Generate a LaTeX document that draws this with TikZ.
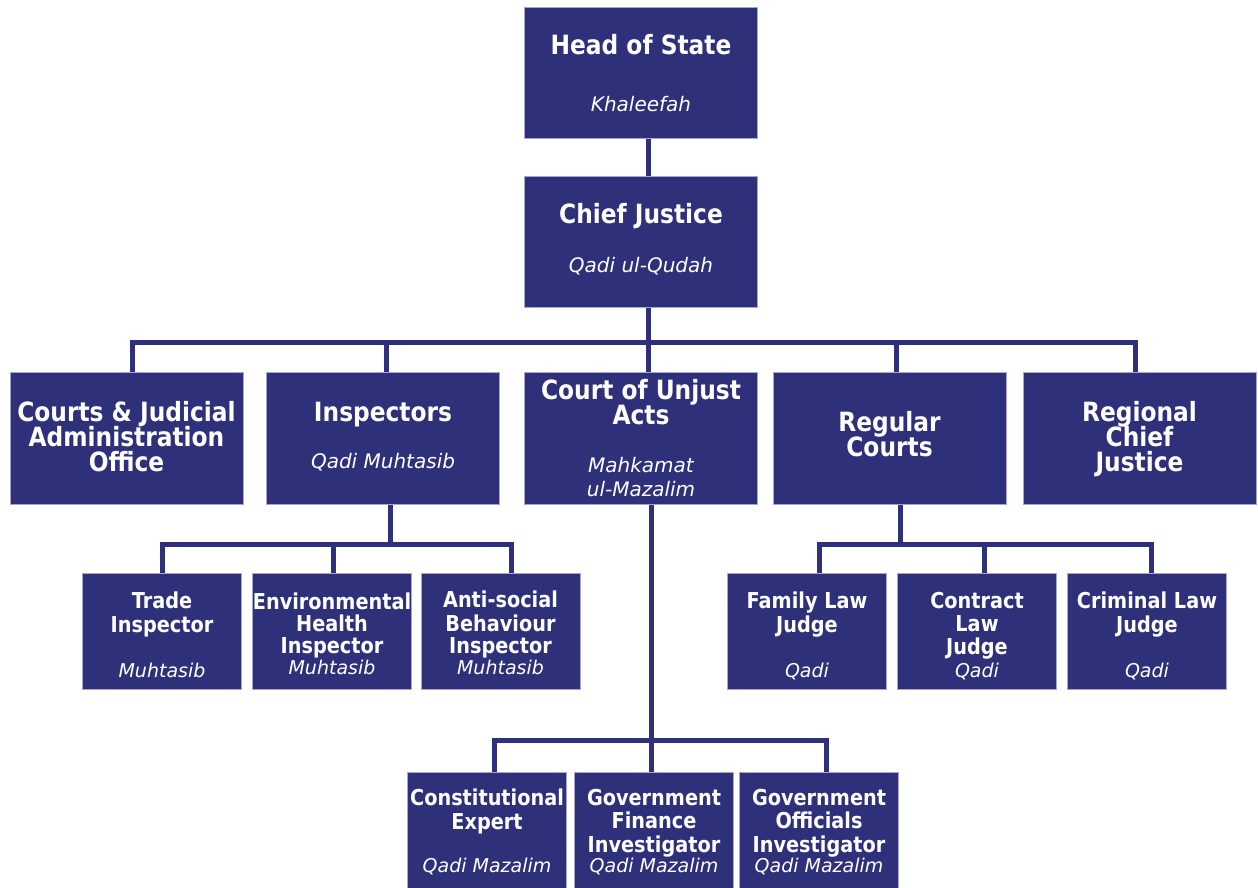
\documentclass[tikz,border=0pt]{standalone}
\usepackage{fontspec}
\setmainfont{DejaVu Sans}
\newfontfamily\condfam{DejaVu Sans}[FakeStretch=0.88]
\definecolor{navy}{RGB}{46,49,122}
\definecolor{edge}{RGB}{165,165,205}
\newcounter{tlc}
\newcommand\T[4]{\stepcounter{tlc}\node[#3] (tl\arabic{tlc}) at (#1,#2) {#4};}
\tikzset{
  box/.style={rectangle, fill=navy, draw=edge, line width=1pt, inner sep=0pt},
  bigbox/.style={box, minimum width=232pt, minimum height=130pt},
  smallbox/.style={box, minimum width=158pt, minimum height=115pt},
  conn/.style={draw=navy, line width=5pt, line join=miter, line cap=rect},
  tx/.style={anchor=base, inner sep=0pt, text=white},
  hb/.style={tx, font=\condfam\bfseries\fontsize{26.5}{26.5}\selectfont},
  sb/.style={tx, font=\condfam\bfseries\fontsize{21.9}{21.9}\selectfont},
  hi/.style={tx, font=\itshape\fontsize{20}{20}\selectfont},
  si/.style={tx, font=\itshape\fontsize{19}{19}\selectfont},
}
\begin{document}
\begin{tikzpicture}[x=1pt,y=-1pt]
\useasboundingbox (0,0) rectangle (1258,888);
\clip (0,0) rectangle (1258,888);
\node[bigbox] (hs) at (641,73) {};
\node[bigbox] (cj) at (641,242) {};
\node[bigbox, minimum height=131pt] (ca) at (126.5,438.5) {};
\node[bigbox, minimum height=131pt] (ins) at (383,438.5) {};
\node[bigbox, minimum height=131pt] (cu) at (641,438.5) {};
\node[bigbox, minimum height=131pt] (rc) at (889.5,438.5) {};
\node[bigbox, minimum height=131pt] (rg) at (1139.5,438.5) {};
\node[smallbox] (tr) at (162,631.5) {};
\node[smallbox] (env) at (332,631.5) {};
\node[smallbox] (anti) at (500.5,631.5) {};
\node[smallbox] (fam) at (807,631.5) {};
\node[smallbox] (con) at (977,631.5) {};
\node[smallbox] (cri) at (1147,631.5) {};
\node[smallbox, minimum height=118pt] (cex) at (487,832) {};
\node[smallbox, minimum height=118pt] (gf) at (654,832) {};
\node[smallbox, minimum height=118pt] (go) at (819,832) {};
\coordinate (bus1) at (648.5,342.5);
\coordinate (bus2) at (390.5,544.5);
\coordinate (bus3) at (900.5,544.5);
\coordinate (bus4) at (651.5,740.5);
% connectors
\draw[conn] ([xshift=7.5pt]hs.south) -- ([xshift=7.5pt]cj.north);
\draw[conn] ([xshift=7.5pt]cj.south) -- ([xshift=7.5pt]cu.north);
\draw[conn] ([xshift=5.5pt]ca.north) |- (bus1) -| ([xshift=-4pt]rg.north);
\draw[conn] ([xshift=3.5pt]ins.north) -- ([xshift=3.5pt]ins.north |- bus1);
\draw[conn] ([xshift=7pt]rc.north) -- ([xshift=7pt]rc.north |- bus1);
\draw[conn] ([xshift=7.5pt]ins.south) -- (bus2);
\draw[conn] ([xshift=0.5pt]tr.north) |- (bus2) -| ([xshift=11pt]anti.north);
\draw[conn] ([xshift=1.5pt]env.north) -- ([xshift=1.5pt]env.north |- bus2);
\draw[conn] ([xshift=11pt]rc.south) -- (bus3);
\draw[conn] ([xshift=12.5pt]fam.north) |- (bus3) -| ([xshift=4.5pt]cri.north);
\draw[conn] ([xshift=7.5pt]con.north) -- ([xshift=7.5pt]con.north |- bus3);
\draw[conn] ([xshift=10.5pt]cu.south) -- ([xshift=-2.5pt]gf.north);
\draw[conn] ([xshift=7.5pt]cex.north) |- (bus4) -| ([xshift=7.5pt]go.north);
% redraw boxes on top of connectors
\foreach \n in {hs,cj,ca,ins,cu,rc,rg,tr,env,anti,fam,con,cri,cex,gf,go}{
  \fill[navy] (\n.south west) rectangle (\n.north east);
  \draw[edge, line width=1pt] (\n.south west) rectangle (\n.north east);
}
% texts
\T{641}{55}{hb}{Head of State}
\T{641}{112}{hi}{Khaleefah}
\T{641}{223}{hb}{Chief Justice}
\T{641}{272}{hi}{Qadi ul-Qudah}
\T{126.5}{421.5}{hb}{Courts \& Judicial}
\T{126.5}{446.5}{hb}{Administration}
\T{126.5}{471}{hb}{Office}
\T{383}{421.5}{hb}{Inspectors}
\T{383}{468}{hi}{Qadi Muhtasib}
\T{641}{399}{hb}{Court of Unjust}
\T{641}{424}{hb}{Acts}
\T{641}{472}{hi}{Mahkamat}
\T{641}{496}{hi}{ul-Mazalim}
\T{889.5}{431}{hb}{Regular}
\T{889.5}{456}{hb}{Courts}
\T{1139.5}{421.5}{hb}{Regional}
\T{1139.5}{446.5}{hb}{Chief}
\T{1139.5}{471}{hb}{Justice}
\T{162}{608}{sb}{Trade}
\T{162}{632}{sb}{Inspector}
\T{162}{677}{si}{Muhtasib}
\T{332}{609}{sb}{Environmental}
\T{332}{631}{sb}{Health}
\T{332}{653}{sb}{Inspector}
\T{332}{674}{si}{Muhtasib}
\T{500.5}{607}{sb}{Anti-social}
\T{500.5}{631}{sb}{Behaviour}
\T{500.5}{653}{sb}{Inspector}
\T{500.5}{674}{si}{Muhtasib}
\T{807}{608}{sb}{Family Law}
\T{807}{632}{sb}{Judge}
\T{807}{677}{si}{Qadi}
\T{977}{608}{sb}{Contract}
\T{977}{631}{sb}{Law}
\T{977}{654}{sb}{Judge}
\T{977}{677}{si}{Qadi}
\T{1147}{608}{sb}{Criminal Law}
\T{1147}{632}{sb}{Judge}
\T{1147}{677}{si}{Qadi}
\T{487}{805}{sb}{Constitutional}
\T{487}{829}{sb}{Expert}
\T{487}{872}{si}{Qadi Mazalim}
\T{654}{805}{sb}{Government}
\T{654}{828}{sb}{Finance}
\T{654}{852}{sb}{Investigator}
\T{654}{872}{si}{Qadi Mazalim}
\T{819}{805}{sb}{Government}
\T{819}{828}{sb}{Officials}
\T{819}{852}{sb}{Investigator}
\T{819}{872}{si}{Qadi Mazalim}
\end{tikzpicture}
\end{document}
